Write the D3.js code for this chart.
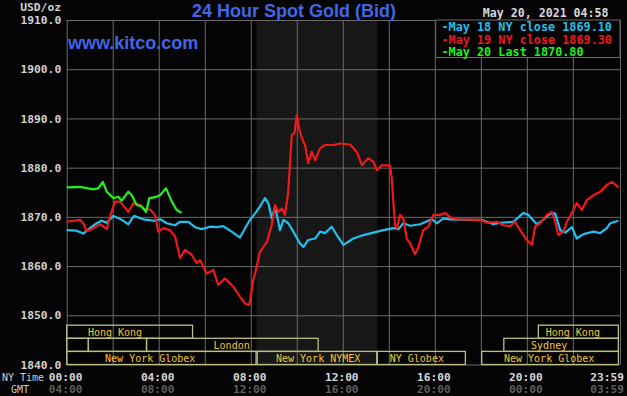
<!DOCTYPE html>
<html>
<head>
<meta charset="utf-8">
<script src="https://cdn.jsdelivr.net/npm/d3@7"></script>
<style>
  html, body { margin: 0; padding: 0; background: #040404; }
  svg { display: block; }
</style>
</head>
<body>
<div id="chart"></div>
<script>
// Series: [hour of NY day, price]
const may18 = [
  [0.00, 1867.3], [0.43, 1867.2], [0.72, 1866.6], [1.01, 1867.7], [1.30, 1868.7], [1.52, 1869.2],
  [1.74, 1868.8], [2.03, 1870.2], [2.39, 1869.4], [2.68, 1868.5], [2.93, 1870.2], [3.33, 1869.5],
  [3.84, 1869.2], [4.06, 1869.5], [4.35, 1868.7], [4.71, 1868.3], [4.93, 1869.0], [5.29, 1869.0],
  [5.58, 1867.9], [5.87, 1867.5], [6.23, 1868.0], [6.52, 1867.9], [6.81, 1868.1], [7.17, 1867.0],
  [7.53, 1865.8], [7.83, 1868.3], [7.97, 1869.4], [8.19, 1870.7], [8.40, 1872.1], [8.62, 1873.8],
  [8.77, 1872.7], [8.91, 1869.7], [9.06, 1872.1], [9.27, 1867.3], [9.42, 1869.4], [9.63, 1868.7],
  [9.85, 1867.0], [10.14, 1864.6], [10.29, 1863.9], [10.50, 1865.3], [10.80, 1865.6], [11.01, 1867.0],
  [11.23, 1866.7], [11.52, 1868.0], [11.74, 1866.3], [12.03, 1864.3], [12.46, 1865.6], [12.90, 1866.3],
  [13.33, 1866.8], [13.77, 1867.3], [14.20, 1867.7], [14.42, 1867.5], [14.63, 1868.7], [14.93, 1868.2],
  [15.36, 1868.5], [15.87, 1869.5], [16.09, 1868.7], [16.37, 1869.7], [16.67, 1869.5], [17.39, 1869.4],
  [18.04, 1869.4], [18.55, 1868.5], [18.84, 1868.8], [19.42, 1869.0], [19.85, 1870.8], [20.07, 1870.4],
  [20.43, 1868.5], [20.72, 1869.4], [20.94, 1870.4], [21.09, 1870.7], [21.23, 1870.7], [21.45, 1867.3],
  [21.67, 1866.8], [21.96, 1867.9], [22.17, 1865.6], [22.46, 1866.5], [22.90, 1867.0], [23.19, 1866.7],
  [23.48, 1867.7], [23.62, 1868.7], [23.98, 1869.2]
];

const may19 = [
  [0.00, 1869.0], [0.58, 1869.4], [0.72, 1868.7], [0.87, 1867.1], [1.16, 1867.7], [1.45, 1868.5],
  [1.59, 1868.0], [1.74, 1867.5], [1.88, 1870.0], [2.10, 1873.1], [2.32, 1873.1], [2.68, 1871.0],
  [2.90, 1872.8], [3.19, 1872.4], [3.40, 1871.5], [3.62, 1871.5], [3.84, 1870.4], [3.98, 1867.0],
  [4.20, 1867.7], [4.49, 1867.3], [4.71, 1866.0], [4.93, 1861.6], [5.14, 1863.3], [5.43, 1862.3],
  [5.65, 1860.6], [5.80, 1861.2], [6.09, 1858.5], [6.37, 1859.2], [6.59, 1856.2], [6.88, 1857.5],
  [7.24, 1855.8], [7.53, 1853.8], [7.75, 1852.4], [7.94, 1852.1], [8.11, 1857.2], [8.19, 1858.5],
  [8.40, 1862.9], [8.70, 1864.9], [8.91, 1868.3], [9.06, 1872.4], [9.20, 1871.0], [9.35, 1871.7],
  [9.49, 1870.4], [9.63, 1875.1], [9.78, 1886.6], [9.90, 1887.0], [10.00, 1890.7], [10.10, 1888.0],
  [10.22, 1886.0], [10.36, 1884.6], [10.50, 1880.9], [10.65, 1883.2], [10.80, 1881.5], [11.01, 1883.9],
  [11.23, 1884.6], [11.59, 1884.6], [11.88, 1884.9], [12.32, 1884.7], [12.61, 1883.2], [12.83, 1880.5],
  [13.11, 1881.9], [13.33, 1881.2], [13.48, 1879.5], [13.70, 1880.5], [14.06, 1880.4], [14.13, 1877.8],
  [14.27, 1868.3], [14.35, 1867.7], [14.49, 1870.4], [14.63, 1869.7], [14.78, 1865.6], [14.93, 1864.6],
  [15.14, 1862.4], [15.29, 1863.9], [15.50, 1867.3], [15.72, 1868.0], [15.94, 1870.4], [16.23, 1870.4],
  [16.45, 1870.8], [16.67, 1869.9], [17.03, 1869.5], [17.97, 1869.4], [18.26, 1868.8], [18.70, 1869.0],
  [18.98, 1868.3], [19.27, 1868.1], [19.49, 1869.0], [19.71, 1867.3], [20.00, 1865.3], [20.22, 1864.3],
  [20.36, 1868.0], [20.58, 1868.7], [20.87, 1870.4], [21.09, 1871.0], [21.23, 1869.0], [21.37, 1866.3],
  [21.59, 1867.0], [21.74, 1869.0], [21.96, 1870.8], [22.17, 1872.8], [22.39, 1871.4], [22.61, 1873.4],
  [22.90, 1874.4], [23.19, 1875.1], [23.48, 1876.5], [23.70, 1877.1], [23.98, 1876.0]
];

const may20 = [
  [0.00, 1876.0], [0.58, 1876.1], [1.16, 1875.6], [1.37, 1875.8], [1.57, 1877.1], [1.74, 1875.1],
  [2.03, 1873.8], [2.24, 1874.1], [2.39, 1873.3], [2.68, 1875.1], [2.83, 1874.4], [3.04, 1872.4],
  [3.26, 1872.1], [3.45, 1871.0], [3.59, 1873.8], [3.84, 1874.0], [4.06, 1874.4], [4.32, 1875.8],
  [4.57, 1873.1], [4.78, 1871.4], [4.93, 1871.0], [5.00, 1870.8]
];

const legendLabels = ["May 18 NY close 1869.10", "May 19 NY close 1869.30", "May 20 Last 1870.80"];
const yTicks = [1840, 1850, 1860, 1870, 1880, 1890, 1900, 1910];
const gridHours = [0, 2, 4, 6, 8, 10, 12, 14, 16, 18, 20, 22];
const labelHours = [0, 4, 8, 12, 16, 20, 23.98];
const nyLabels = ["00:00", "04:00", "08:00", "12:00", "16:00", "20:00", "23:59"];
const gmtLabels = ["04:00", "08:00", "12:00", "16:00", "20:00", "00:00", "03:59"];
const nymexHours = [8.25, 13.5];

// Market sessions: row, start hour, end hour, label, label centre hour
const sessions = [
  [0, 0, 5.47, "Hong Kong", 2.1],
  [0, 20.5, 23.98, "Hong Kong", 22.0],
  [1, 0, 0.94, "", 0],
  [1, 0.94, 3.47, "", 0],
  [1, 3.47, 10.93, "London", 7.17],
  [1, 19.0, 23.98, "Sydney", 20.97],
  [2, 0, 8.23, "New York Globex", 3.63],
  [2, 8.28, 13.48, "New York NYMEX", 10.93],
  [2, 13.5, 17.33, "NY Globex", 15.22],
  [2, 18.04, 23.98, "New York Globex", 20.97]
];

const width = 627, height = 396;
const plot = { left: 66.7, right: 620, top: 20, bottom: 364.5 };
const colors = ["#22c0ee", "#f01818", "#22ee22"];
const mono = "'DejaVu Sans Mono', monospace";

const svg = d3.select("#chart").append("svg")
  .attr("width", width).attr("height", height);

svg.append("rect").attr("width", width).attr("height", height).attr("fill", "#040404");

const x = d3.scaleLinear().domain([0, 24.05]).range([plot.left, plot.right]);
const y = d3.scaleLinear().domain([1840, 1910]).range([plot.bottom, plot.top]);

// NYMEX shading
svg.append("rect")
  .attr("x", x(nymexHours[0])).attr("y", plot.top)
  .attr("width", x(nymexHours[1]) - x(nymexHours[0]))
  .attr("height", plot.bottom - plot.top)
  .attr("fill", "#171717");

// grid
const gridColor = "#6a6a6a";
svg.append("g").attr("class", "grid")
  .attr("transform", `translate(${plot.left},0)`)
  .call(d3.axisLeft(y).tickValues(yTicks).tickSize(-(plot.right - plot.left)).tickFormat(""))
  .call(g => g.select(".domain").remove())
  .selectAll("line").attr("stroke", gridColor);

svg.append("g").attr("class", "grid")
  .attr("transform", `translate(0,${plot.bottom})`)
  .call(d3.axisBottom(x).tickValues(gridHours.concat([24.05])).tickSize(-(plot.bottom - plot.top)).tickFormat(""))
  .call(g => g.select(".domain").remove())
  .selectAll("line").attr("stroke", gridColor);

// y labels
svg.append("g")
  .attr("transform", `translate(${plot.left},0)`)
  .call(d3.axisLeft(y).tickValues(yTicks).tickSize(0).tickPadding(5.5).tickFormat(d3.format(".1f")))
  .call(g => g.select(".domain").remove())
  .selectAll("text")
  .attr("fill", "#d2d2d2").attr("font-family", mono).attr("font-weight", "bold").attr("font-size", 11.3);

svg.append("text").attr("x", 61).attr("y", 11)
  .attr("text-anchor", "end").attr("fill", "#d2d2d2")
  .attr("font-family", mono).attr("font-weight", "bold").attr("font-size", 11.3)
  .text("USD/oz");

// sessions
const rowH = 13.1;
const rowTop = plot.bottom - 3 * rowH;
const sess = svg.append("g");
sess.selectAll("rect").data(sessions).join("rect")
  .attr("x", d => x(d[1])).attr("y", d => rowTop + d[0] * rowH)
  .attr("width", d => x(d[2]) - x(d[1])).attr("height", rowH)
  .attr("fill", "none").attr("stroke", "#bdbd86").attr("stroke-width", 1.3);
sess.selectAll("text").data(sessions.filter(d => d[3])).join("text")
  .attr("x", d => x(d[4])).attr("y", d => rowTop + d[0] * rowH + rowH / 2 + 3.8)
  .attr("text-anchor", "middle").attr("fill", "#f2c636")
  .attr("font-family", mono).attr("font-size", 10)
  .text(d => d[3]);

// lines
const line = d3.line().x(d => x(d[0])).y(d => y(d[1]));
[may18, may19, may20].forEach((s, i) => {
  svg.append("path").datum(s)
    .attr("d", line).attr("fill", "none")
    .attr("stroke", colors[i]).attr("stroke-width", 2.2)
    .attr("stroke-linejoin", "round");
});

// x labels
const xAxis = svg.append("g")
  .attr("transform", `translate(0,${plot.bottom})`)
  .call(d3.axisBottom(x).tickValues(labelHours).tickSize(0).tickFormat((d, i) => nyLabels[i]))
  .call(g => g.select(".domain").remove());
xAxis.selectAll("text")
  .attr("y", 16).attr("dy", 0)
  .attr("fill", "#d6d6d6").attr("font-family", mono).attr("font-weight", "bold").attr("font-size", 11.2)
  .attr("text-anchor", (d, i) => i === labelHours.length - 1 ? "end" : "middle")
  .attr("x", (d, i) => i === labelHours.length - 1 ? 5 : -1.5);

const gmtAxis = svg.append("g")
  .attr("transform", `translate(0,${plot.bottom})`)
  .call(d3.axisBottom(x).tickValues(labelHours).tickSize(0).tickFormat((d, i) => gmtLabels[i]))
  .call(g => g.select(".domain").remove());
gmtAxis.selectAll("text")
  .attr("y", 28.5).attr("dy", 0)
  .attr("fill", "#5e5e5e").attr("font-family", mono).attr("font-weight", "bold").attr("font-size", 11.2)
  .attr("text-anchor", (d, i) => i === labelHours.length - 1 ? "end" : "middle")
  .attr("x", (d, i) => i === labelHours.length - 1 ? 5 : -1.5);

svg.append("text").attr("x", 2).attr("y", 380.5)
  .attr("fill", "#cfcfcf").attr("font-family", mono).attr("font-size", 10).text("NY Time");
svg.append("text").attr("x", 11).attr("y", 393)
  .attr("fill", "#cfcfcf").attr("font-family", mono).attr("font-size", 10).text("GMT");

// title
svg.append("text").attr("x", 294).attr("y", 17)
  .attr("text-anchor", "middle").attr("fill", "#4166e8")
  .attr("font-family", "'Liberation Sans', Arial, sans-serif").attr("font-weight", "bold").attr("font-size", 18)
  .text("24 Hour Spot Gold (Bid)");

svg.append("text").attr("x", 68).attr("y", 48.5)
  .attr("fill", "#4166e8")
  .attr("font-family", "'Liberation Sans', Arial, sans-serif").attr("font-weight", "bold").attr("font-size", 18)
  .text("www.kitco.com");

svg.append("text").attr("x", 608.5).attr("y", 17)
  .attr("text-anchor", "end").attr("fill", "#d8d8d8")
  .attr("font-family", mono).attr("font-weight", "bold").attr("font-size", 11.6)
  .text("May 20, 2021 04:58");

// legend
svg.append("rect")
  .attr("x", 435.7).attr("y", plot.top).attr("width", plot.right - 435.7).attr("height", 37.5)
  .attr("fill", "#040404").attr("stroke", gridColor);
svg.append("g").selectAll("text").data(legendLabels).join("text")
  .attr("x", 441.5).attr("y", (d, i) => 31 + i * 12.5)
  .attr("fill", (d, i) => colors[i])
  .attr("font-family", mono).attr("font-weight", "bold").attr("font-size", 11.8)
  .text(d => "-" + d);
</script>
</body>
</html>
